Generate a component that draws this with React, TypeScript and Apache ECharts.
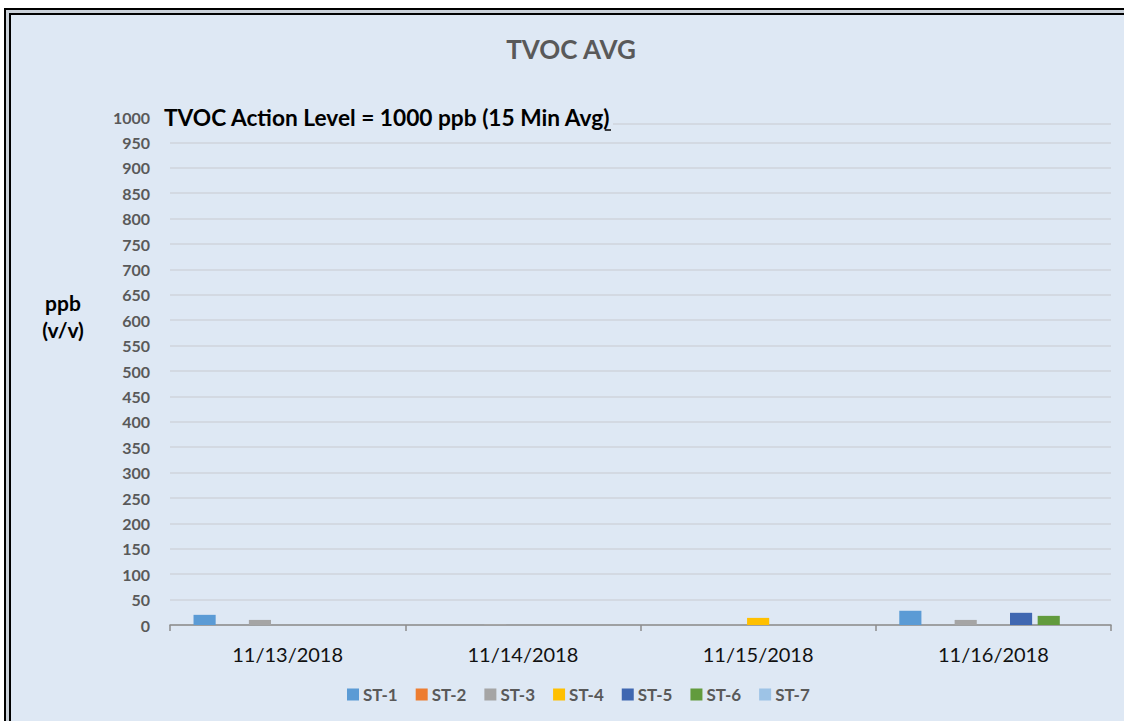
import React, { useEffect, useRef } from "react";
import * as echarts from "echarts";

const categories = ["11/13/2018", "11/14/2018", "11/15/2018", "11/16/2018"];
const seriesNames = ["ST-1", "ST-2", "ST-3", "ST-4", "ST-5", "ST-6", "ST-7"];
const st1 = [20, 0, 0, 28];
const st2 = [0, 0, 0, 0];
const st3 = [10, 2, 1, 10];
const st4 = [0, 0, 14, 0];
const st5 = [0, 0, 0, 24];
const st6 = [0, 0, 0, 18];
const st7 = [0, 0, 0, 0];
const seriesValues = [st1, st2, st3, st4, st5, st6, st7];
const colors = ["#5B9BD5", "#ED7D31", "#A5A5A5", "#FFC000", "#3F67B1", "#629B3D", "#9DC3E6"];

const FONT = "Lato, 'Open Sans', sans-serif";
const annotation = "TVOC Action Level = 1000 ppb (15 Min Avg";

export default function App() {
  const ref = useRef<HTMLDivElement>(null);
  useEffect(() => {
    if (!ref.current) return;
    const chart = echarts.init(ref.current, null, { renderer: "svg" });
    const ctx = document.createElement("canvas").getContext("2d")!;
    const annFont = 22.7;
    ctx.font = `bold ${annFont}px ${FONT}`;
    const w1 = ctx.measureText(annotation).width;
    const w2 = ctx.measureText(")").width;
    const annX = 164;
    const gridColors = [];
    for (let i = 0; i < 20; i++) gridColors.push("#cfd5dc");
    gridColors.push("rgba(0,0,0,0)");
    chart.setOption({
      animation: false,
      backgroundColor: "#ffffff",
      title: {
        text: "TVOC AVG",
        left: 566,
        top: 31,
        textAlign: "center",
        textStyle: { fontFamily: FONT, fontWeight: "bold", fontSize: 26, color: "#595959" },
      },
      legend: {
        top: 681,
        left: 342,
        itemWidth: 12,
        itemHeight: 12,
        itemGap: 18,
        icon: "rect",
        textStyle: { fontFamily: FONT, fontWeight: "bold", fontSize: 17, color: "#595959", padding: [0, 0, 0, -1] },
        data: seriesNames,
      },
      grid: { left: 170, right: 13, top: 117, bottom: 96, containLabel: false },
      xAxis: {
        type: "category",
        data: categories,
        axisLine: { lineStyle: { color: "#8c8c8c", width: 1.5 } },
        axisTick: { show: true, length: 6, lineStyle: { color: "#8c8c8c", width: 1.5 } },
        axisLabel: { fontFamily: FONT, fontSize: 20, color: "#111111", margin: 19 },
      },
      yAxis: {
        type: "value",
        min: 0,
        max: 1000,
        interval: 50,
        axisLine: { show: false },
        axisTick: { show: false },
        axisLabel: {
          fontFamily: FONT,
          fontWeight: "bold",
          fontSize: 16,
          color: "#595959",
          margin: 20,
          formatter: (v: number) => String(v),
        },
        splitLine: { lineStyle: { color: gridColors, width: 1.5 } },
      },
      graphic: [
        { type: "rect", z: -10, shape: { x: 0, y: 0, width: 1124, height: 721 }, style: { fill: "#ffffff" } },
        { type: "rect", z: -9, shape: { x: 5, y: 9, width: 1200, height: 800 }, style: { fill: "#c9d0d8", stroke: "#000000", lineWidth: 2 } },
        { type: "rect", z: -8, shape: { x: 10, y: 14, width: 1200, height: 800 }, style: { fill: "#DEE8F4", stroke: "#000000", lineWidth: 2 } },
        {
          type: "text",
          x: 63,
          y: 316,
          style: {
            text: "ppb\n(v/v)",
            fontFamily: FONT,
            fontWeight: "bold",
            fontSize: 21,
            fill: "#000000",
            lineHeight: 27,
            align: "center",
            verticalAlign: "middle",
          },
        },
        {
          type: "text",
          x: annX,
          y: 117,
          style: {
            text: annotation + ")",
            fontFamily: FONT,
            fontWeight: "bold",
            fontSize: annFont,
            fill: "#000000",
            verticalAlign: "middle",
          },
        },
        {
          type: "line",
          shape: { x1: annX + w1, y1: 130, x2: annX + w1 + w2, y2: 130 },
          style: { stroke: "#000000", lineWidth: 1.5 },
        },
        {
          type: "line",
          shape: { x1: annX + w1 + w2 + 2, y1: 124, x2: 1111, y2: 124 },
          style: { stroke: "#cfd5dc", lineWidth: 1.5 },
        },
      ],
      series: seriesNames.map((name, i) => ({
        name,
        type: "bar",
        data: seriesValues[i],
        barGap: "25%",
        barCategoryGap: "20%",
        itemStyle: { color: colors[i] },
      })),
    });
    return () => chart.dispose();
  }, []);
  return <div ref={ref} style={{ position: "fixed", left: 0, top: 0, width: 1124, height: 721 }} />;
}
